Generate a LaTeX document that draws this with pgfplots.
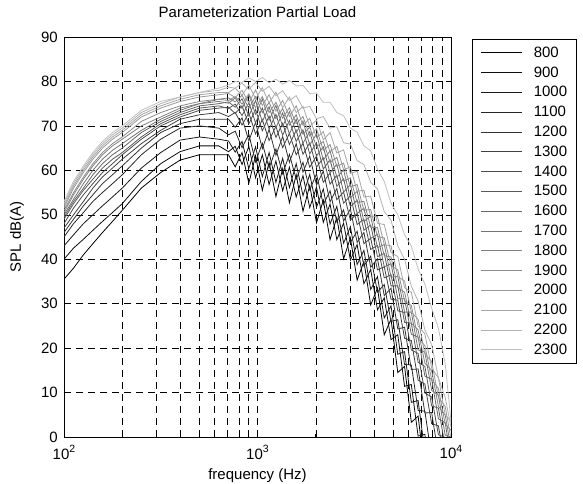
\documentclass[border=0pt]{standalone}
\usepackage{fontspec}
\setmainfont{Liberation Sans}
\usepackage{pgfplots}
\usepackage{pgfplotstable}
\pgfplotsset{compat=1.18}
\newcommand\fs{\fontsize{15bp}{18bp}\selectfont}
\newcommand\tenpow[1]{10\raisebox{6.5bp}{\fontsize{10.5bp}{12bp}\selectfont #1}}

\pgfplotstableread{
f s800 s900 s1000 s1100 s1200 s1300 s1400 s1500 s1600 s1700 s1800 s1900 s2000 s2100 s2200 s2300
100 35.5 40 43 45 46 47 48 49 49.5 50 50.5 51 51.5 52 52.5 53
112 38 42.5 45.5 48 49 50 51.5 52.5 53 53.5 54.5 55 56 56.5 57 57.5
126 41 44.5 48 50.5 52 53 54.5 55.5 56 57 58 58.5 59.5 60 60.5 61
141 43.5 46.5 50 53 54.5 56 57 58 59 60 61 61.5 62.5 63 63.5 64
158 46 48.5 52 55 57 58.5 59.5 60.5 61.5 62.5 63.5 64 65 65.5 66 66.5
178 48.5 50.5 54 57 59 60.5 61.5 62.5 63.5 64.5 65.5 66 67 67.5 68 68.5
200 51 52.5 56 59 61 62.5 63.5 64 65 66 67 67.5 68.5 69 69.5 70
251 56 57.5 60.5 63.5 65 66 67 67.5 68.5 69 70 71 72 72.5 73 73.5
316 59.5 61.5 64 67 68.5 69 70 70.5 71 71.5 72 73 74 74.5 75 75.5
398 62.3 64.2 66.8 69.5 70.5 71.5 72 72.5 73 73.5 74 74.5 75.5 76 76.5 76.5
501 63.5 65.5 67.5 70 71.5 72.5 73.5 74 74.5 75 75 75.5 76.5 77 77.5 77.5
631 63.5 65.5 67 69.5 71.5 73 74 74.5 75 75.5 76 76 77 77.5 78 78.5
708 63.5 64.2 66.6 68.0 71.5 72.1 74.2 73.9 75.4 75.1 76.3 75.7 77.3 77.5 78.7 79.2
767 60.8 65.4 64.1 68.8 69.7 73.0 72.8 74.9 74.2 76.3 75.4 76.6 76.4 78.5 78.5 80.0
832 64.0 61.3 66.5 65.1 71.8 70.2 74.5 72.3 76.1 73.9 76.9 74.9 78.0 76.9 79.6 79.8
902 57.1 65.4 60.4 68.1 66.6 72.9 70.4 75.2 72.2 77.0 74.0 77.2 75.2 79.2 78.2 80.8
977 63.3 58.3 65.3 61.9 70.8 68.2 73.7 70.7 75.7 72.6 76.6 74.1 78.1 76.1 79.8 80.0
1059 55.5 63.5 58.6 66.1 64.9 71.4 68.9 74.0 71.0 76.0 73.0 76.6 74.6 78.6 77.8 80.9
1148 61.8 56.8 64.0 60.5 69.2 66.7 72.2 69.3 74.3 71.3 75.3 73.0 77.0 75.1 78.9 79.7
1245 54.1 62.1 57.3 64.8 63.4 69.9 67.4 72.6 69.6 74.6 71.6 75.3 73.3 77.6 76.8 80.5
1349 60.4 55.4 62.7 59.2 67.6 65.1 70.6 67.9 72.9 69.9 73.9 71.7 75.7 74.1 77.9 79.4
1462 52.7 60.7 56.1 63.6 61.8 68.3 65.8 71.2 68.2 73.2 70.2 74.1 72.1 76.5 75.7 80.2
1585 59.0 54.0 61.5 58.0 66.0 63.5 69.0 66.5 71.5 68.5 72.5 70.5 74.5 73.0 76.8 79.0
1718 50.8 58.8 54.3 61.8 59.6 66.1 63.6 69.1 66.1 71.1 68.1 72.1 70.1 74.4 74.0 79.1
1862 56.6 51.6 59.1 55.6 63.2 60.7 66.2 63.7 68.7 65.7 69.7 67.7 71.7 69.9 74.4 77.3
2018 48.2 56.2 51.7 59.2 56.7 63.2 60.7 66.2 63.2 68.2 65.3 69.3 67.3 71.3 71.6 77.4
2188 53.3 48.3 55.8 52.3 59.8 57.3 62.8 60.3 65.3 62.3 66.5 64.5 68.7 66.9 72.1 75.3
2371 44.4 52.4 47.9 55.4 52.9 59.4 56.9 62.4 59.4 64.4 61.8 65.8 64.1 68.5 69.5 75.3
2570 49.4 44.4 51.9 48.4 55.9 53.4 58.9 56.4 61.4 58.4 62.9 60.9 65.4 63.9 69.8 73.0
2786 40.1 48.1 43.6 51.1 48.6 55.1 52.6 58.1 55.1 60.1 57.6 61.6 60.1 64.6 66.2 72.3
3020 44.8 39.8 47.3 43.8 51.3 48.8 54.3 51.8 56.8 53.8 58.3 56.3 60.8 59.3 65.9 69.5
3273 35.3 43.3 38.8 46.3 43.8 50.3 47.8 53.3 50.3 55.3 52.8 56.8 55.3 59.8 62.2 68.6
3548 39.5 34.5 42.0 38.5 46.0 43.5 49.0 46.5 51.5 48.5 53.0 51.0 55.5 54.0 61.3 65.5
3846 29.7 37.7 33.2 40.7 38.2 44.7 42.2 47.7 44.7 49.7 47.2 51.2 49.7 54.2 57.3 64.4
4169 33.5 28.6 36.1 32.6 40.1 37.6 43.1 40.6 45.6 42.6 47.1 45.1 49.6 48.1 55.8 60.3
4519 23.0 31.3 26.8 34.3 31.8 38.3 35.8 41.3 38.3 43.3 40.8 44.8 43.3 47.8 50.7 57.5
4898 26.5 21.9 29.5 26.0 33.5 31.0 36.5 34.0 39.0 36.0 40.5 38.5 43.0 41.5 48.8 52.6
5309 14.5 23.0 18.6 26.4 24.3 30.8 28.4 34.0 31.1 36.1 33.6 37.6 36.1 40.6 43.0 50.0
5754 15.9 11.4 19.2 16.3 24.7 22.2 28.0 25.8 31.1 28.1 32.6 30.6 35.1 33.6 40.0 45.5
6237 3.3 11.8 7.8 16.2 15.2 21.7 19.6 25.6 23.1 28.1 25.6 29.6 28.1 32.6 33.9 43.0
6761 4.7 0.2 8.2 6.0 15.3 12.8 18.8 16.8 22.5 19.6 24.1 22.1 26.5 25.0 30.6 37.8
7328 -7.9 0.6 -3.4 5.8 5.4 11.9 9.9 15.9 13.7 19.1 16.6 20.6 18.7 23.2 24.1 34.4
7943 -6.5 -11 -3 -4.5 5.5 3 9.0 7 13 10.5 15.0 13.0 17.0 15.5 20.8 29.0
8610 -17 -9.2 -13.9 -4.1 -4.1 2.5 0.5 6.5 4.1 9.4 6.9 10.9 8.9 13.3 13.3 24.5
9333 -13.5 -19.4 -12.8 -13.6 -3.6 -6.1 -0.1 -2.1 3.2 0.4 4.9 2.9 6.9 5.0 8.9 16.5
10000 -23.5 -17 -23 -12.5 -12.5 -6 -8 -2 -5 0 -2.5 1.5 -0.5 3.5 2.2 3.5
}\data

\begin{document}
\begin{tikzpicture}
\useasboundingbox (0,0) rectangle (583bp,484bp);
\begin{axis}[
  at={(64bp,47bp)}, anchor=south west,
  scale only axis, width=387bp, height=400bp,
  xmode=log, xmin=100, xmax=10000, ymin=0, ymax=90,
  xtick={100,1000,10000},
  xticklabels={\tenpow{2},\tenpow{3},\tenpow{4}},
  minor xtick={200,300,400,500,600,700,800,900,2000,3000,4000,5000,6000,7000,8000,9000},
  ytick={0,10,...,90},
  xmajorgrids, xminorgrids, ymajorgrids,
  major grid style={black, line width=0.4pt, dash pattern=on 7bp off 5bp},
  minor grid style={black, line width=0.4pt, dash pattern=on 7bp off 5bp},
  tick align=inside, major tick length=5bp, minor tick length=3bp,
  tick style={black, line width=0.5pt},
  axis line style={black, line width=0.6pt},
  /pgf/number format/assume math mode=true,
  ticklabel style={font=\fs},
  yticklabel style={anchor=east, inner sep=0pt, xshift=-6bp},
  xticklabel style={anchor=north, inner sep=0pt, yshift=-8bp},
  title={Parameterization Partial Load},
  title style={font=\fs, at={(axis description cs:0.5,1)}, anchor=center, inner sep=0pt, yshift=18.5bp},
  xlabel={frequency (Hz)},
  xlabel style={font=\fs, at={(axis description cs:0.5,0)}, anchor=north, inner sep=0pt, yshift=-31bp},
  ylabel={SPL dB(A)},
  ylabel style={font=\fs, at={(axis description cs:0,0.5)}, anchor=center, inner sep=0pt, yshift=47bp},
  legend cell align=left,
  legend image code/.code={\draw[#1] (0bp,0bp) -- (41bp,0bp);},
  legend style={at={(1.0535,0.994)}, anchor=north west, draw=black, line width=0.6pt,
    font=\fs, inner xsep=9bp, inner ysep=7bp, row sep=7.6bp,
    nodes={inner sep=0pt, text height=10.7bp},
    /tikz/every odd column/.append style={column sep=11bp}},
  every axis plot/.append style={line width=0.8bp},
]
\addplot[black!100] table[x=f,y=s800]{\data}; \addlegendentry{800}
\addplot[black!95] table[x=f,y=s900]{\data}; \addlegendentry{900}
\addplot[black!90] table[x=f,y=s1000]{\data}; \addlegendentry{1000}
\addplot[black!85] table[x=f,y=s1100]{\data}; \addlegendentry{1100}
\addplot[black!80] table[x=f,y=s1200]{\data}; \addlegendentry{1200}
\addplot[black!75] table[x=f,y=s1300]{\data}; \addlegendentry{1300}
\addplot[black!70] table[x=f,y=s1400]{\data}; \addlegendentry{1400}
\addplot[black!65] table[x=f,y=s1500]{\data}; \addlegendentry{1500}
\addplot[black!60] table[x=f,y=s1600]{\data}; \addlegendentry{1600}
\addplot[black!55] table[x=f,y=s1700]{\data}; \addlegendentry{1700}
\addplot[black!50] table[x=f,y=s1800]{\data}; \addlegendentry{1800}
\addplot[black!45] table[x=f,y=s1900]{\data}; \addlegendentry{1900}
\addplot[black!40] table[x=f,y=s2000]{\data}; \addlegendentry{2000}
\addplot[black!35] table[x=f,y=s2100]{\data}; \addlegendentry{2100}
\addplot[black!30] table[x=f,y=s2200]{\data}; \addlegendentry{2200}
\addplot[black!25] table[x=f,y=s2300]{\data}; \addlegendentry{2300}
\end{axis}
\end{tikzpicture}
\end{document}
